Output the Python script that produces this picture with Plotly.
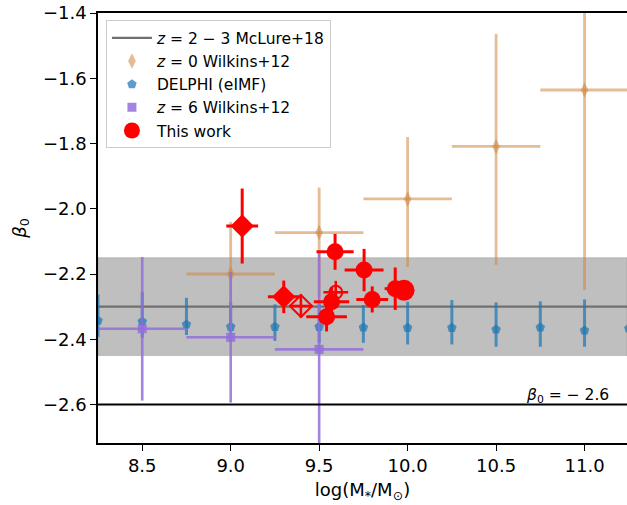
import plotly.graph_objects as go

# ---------------- data ----------------
# z=0 Wilkins+12
w0_x = [9.0, 9.5, 10.0, 10.5, 11.0]
w0_y = [-2.20, -2.073, -1.970, -1.809, -1.636]
w0_xerr = [0.25, 0.25, 0.25, 0.25, 0.25]
w0_yerr_plus = [0.16, 0.138, 0.19, 0.345, 0.61]
w0_yerr_minus = [0.16, 0.197, 0.209, 0.363, 0.613]

# DELPHI (eIMF)
d_x = [8.25, 8.5, 8.75, 9.0, 9.25, 9.5, 9.75, 10.0, 10.25, 10.5, 10.75, 11.0, 11.25]
d_y = [-2.343, -2.346, -2.355, -2.362, -2.362, -2.362, -2.364, -2.365, -2.365, -2.370, -2.364, -2.373, -2.367]
d_yerr_plus = [0.08, 0.09, 0.082, 0.075, 0.069, 0.075, 0.069, 0.080, 0.085, 0.083, 0.080, 0.095, 0.08]
d_yerr_minus = [0.05, 0.05, 0.032, 0.045, 0.043, 0.05, 0.047, 0.051, 0.051, 0.053, 0.059, 0.050, 0.05]

# z=6 Wilkins+12
w6_x = [8.5, 9.0, 9.5]
w6_y = [-2.368, -2.394, -2.431]
w6_xerr = [0.25, 0.25, 0.25]
w6_yerr = [0.22, 0.20, 0.30]

# McLure+18 z=2-3
mclure_y = -2.30
mclure_lo = -2.45
mclure_hi = -2.15
beta_ref = -2.6

# This work: filled circles
c_x = [9.59, 9.754, 9.80, 9.57, 9.542, 9.93]
c_y = [-2.132, -2.188, -2.278, -2.285, -2.331, -2.245]
c_xerr = [0.105, 0.11, 0.09, 0.10, 0.115, 0.06]
c_yerr = [0.055, 0.065, 0.04, 0.045, 0.045, 0.065]
# This work: large circle
cb_x = [9.98]
cb_y = [-2.25]
# This work: filled diamonds
dm_x = [9.065, 9.30]
dm_y = [-2.053, -2.27]
dm_xerr = [0.09, 0.09]
dm_yerr = [0.115, 0.05]
# This work: open diamond
od_x = [9.397]
od_y = [-2.298]
od_xerr = [0.065]
od_yerr = [0.035]
# This work: open circle with cross
oc_x = [9.594]
oc_y = [-2.256]
oc_xerr = [0.07]
oc_yerr = [0.035]

x_range = [8.25, 11.24]
y_range = [-2.718, -1.40]
x_ticks = [8.5, 9.0, 9.5, 10.0, 10.5, 11.0]
y_ticks = [-2.6, -2.4, -2.2, -2.0, -1.8, -1.6, -1.4]

# ---------------- styles ----------------
TAN = "rgba(205,133,63,0.55)"
BLUE = "rgba(31,119,180,0.72)"
PURPLE = "rgba(147,112,219,0.85)"
RED = "red"
FONT = "DejaVu Sans"

fig = go.Figure()

fig.add_trace(go.Scatter(
    x=[x_range[0] - 1, x_range[1] + 1], y=[mclure_y, mclure_y], mode="lines",
    line=dict(color="rgb(112,112,112)", width=2.2),
    name="<i>z</i> = 2 − 3 McLure+18", legendgroup="a"))

fig.add_trace(go.Scatter(
    x=w0_x, y=w0_y, mode="markers",
    marker=dict(symbol="diamond-tall", size=11, color=TAN, line=dict(width=0)),
    error_x=dict(type="data", array=w0_xerr, color=TAN, thickness=2.8, width=0),
    error_y=dict(type="data", array=w0_yerr_plus, arrayminus=w0_yerr_minus,
                 symmetric=False, color=TAN, thickness=2.8, width=0),
    name="<i>z</i> = 0 Wilkins+12", legendgroup="b"))

fig.add_trace(go.Scatter(
    x=d_x, y=d_y, mode="markers",
    marker=dict(symbol="pentagon", size=10, color=BLUE, line=dict(width=0)),
    error_y=dict(type="data", array=d_yerr_plus, arrayminus=d_yerr_minus,
                 symmetric=False, color=BLUE, thickness=3, width=0),
    name="DELPHI (eIMF)", legendgroup="c"))

fig.add_trace(go.Scatter(
    x=w6_x, y=w6_y, mode="markers",
    marker=dict(symbol="square", size=9, color=PURPLE, line=dict(width=0)),
    error_x=dict(type="data", array=w6_xerr, color=PURPLE, thickness=2.6, width=0),
    error_y=dict(type="data", array=w6_yerr, color=PURPLE, thickness=2.6, width=0),
    name="<i>z</i> = 6 Wilkins+12", legendgroup="d"))

fig.add_trace(go.Scatter(
    x=dm_x, y=dm_y, mode="markers",
    marker=dict(symbol="diamond", size=18, color=RED, line=dict(width=0)),
    error_x=dict(type="data", array=dm_xerr, color=RED, thickness=3, width=0),
    error_y=dict(type="data", array=dm_yerr, color=RED, thickness=3, width=0),
    showlegend=False))

fig.add_trace(go.Scatter(
    x=od_x, y=od_y, mode="markers",
    marker=dict(symbol="diamond-cross-open", size=17, color=RED, line=dict(width=2, color=RED)),
    error_x=dict(type="data", array=od_xerr, color=RED, thickness=2.5, width=0),
    error_y=dict(type="data", array=od_yerr, color=RED, thickness=2.5, width=0),
    showlegend=False))

fig.add_trace(go.Scatter(
    x=oc_x, y=oc_y, mode="markers",
    marker=dict(symbol="circle-cross-open", size=13, color=RED, line=dict(width=2, color=RED)),
    error_x=dict(type="data", array=oc_xerr, color=RED, thickness=2.5, width=0),
    error_y=dict(type="data", array=oc_yerr, color=RED, thickness=2.5, width=0),
    showlegend=False))

fig.add_trace(go.Scatter(
    x=c_x, y=c_y, mode="markers",
    marker=dict(symbol="circle", size=17, color=RED, line=dict(width=0)),
    error_x=dict(type="data", array=c_xerr, color=RED, thickness=3, width=0),
    error_y=dict(type="data", array=c_yerr, color=RED, thickness=3, width=0),
    name="This work", legendgroup="e"))

fig.add_trace(go.Scatter(
    x=cb_x, y=cb_y, mode="markers",
    marker=dict(symbol="circle", size=21, color=RED, line=dict(width=0)),
    showlegend=False))

fig.add_shape(type="rect", xref="paper", x0=0, x1=1, yref="y",
              y0=mclure_lo, y1=mclure_hi, layer="below",
              fillcolor="rgba(128,128,128,0.5)",
              line=dict(color="rgba(128,128,128,0.35)", width=1))
fig.add_shape(type="line", xref="paper", x0=0, x1=1, yref="y",
              y0=beta_ref, y1=beta_ref, layer="above",
              line=dict(color="black", width=2.2))

fig.add_annotation(x=11.15, y=beta_ref, xref="x", yref="y",
                   text="<i>β</i><sub>0</sub> = − 2.6", showarrow=False,
                   xanchor="right", yanchor="bottom", yshift=-3,
                   font=dict(family=FONT, size=15.5, color="black"))

fig.update_layout(
    width=627, height=505,
    margin=dict(l=98, r=0, t=13, b=62),
    paper_bgcolor="white", plot_bgcolor="white",
    font=dict(family=FONT, size=18, color="black"),
    showlegend=True,
    legend=dict(x=0.015, y=0.983, xanchor="left", yanchor="top",
                bgcolor="rgba(255,255,255,0.85)", bordercolor="rgb(204,204,204)",
                borderwidth=1, font=dict(family=FONT, size=15.5),
                traceorder="grouped", tracegroupgap=0, itemsizing="trace",
                itemwidth=40),
    xaxis=dict(range=x_range, tickvals=x_ticks, tickformat=".1f",
               showgrid=False, zeroline=False, showline=True, linecolor="black",
               linewidth=1.5, mirror=True, ticks="outside", ticklen=6, tickwidth=1.2,
               tickcolor="black",
               title=dict(text="log(M<sub>*</sub>/M<sub>⊙</sub>)", standoff=8,
                          font=dict(family=FONT, size=18))),
    yaxis=dict(range=y_range, tickvals=y_ticks, tickformat=".1f",
               showgrid=False, zeroline=False, showline=True, linecolor="black",
               linewidth=1.5, ticks="outside", ticklen=6, tickwidth=1.2,
               tickcolor="black",
               title=dict(text="<i>β</i><sub>0</sub>", standoff=12,
                          font=dict(family=FONT, size=18))),
)

fig.write_html("out.html")
